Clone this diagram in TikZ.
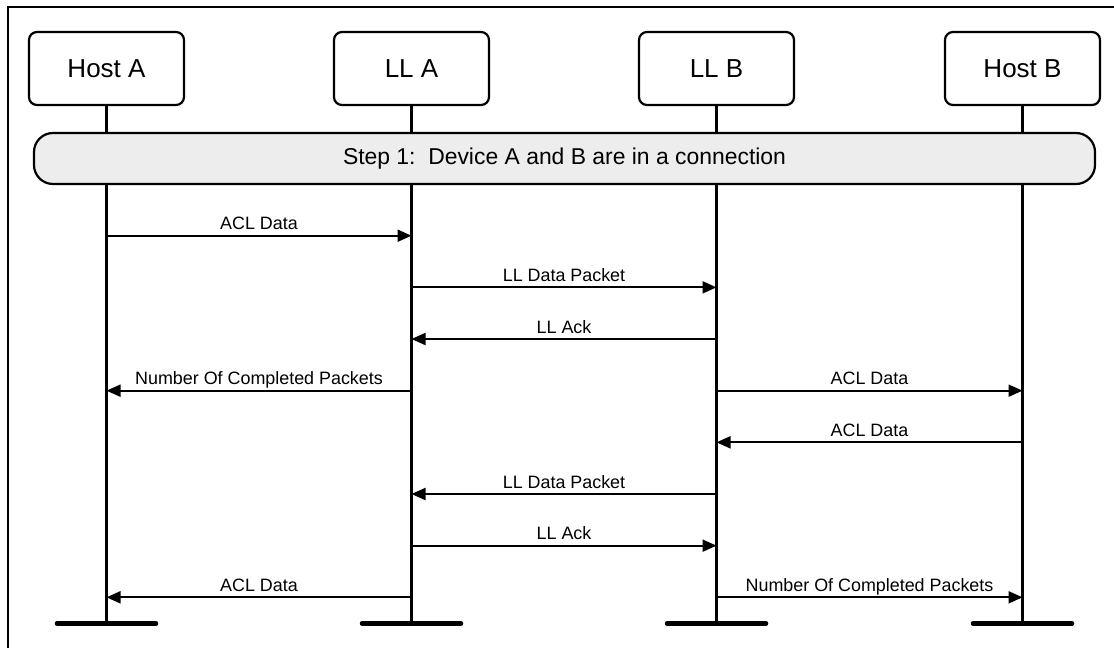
\documentclass[tikz,border=0pt]{standalone}
\usepackage{fontspec}
\setmainfont{Liberation Sans}
\usetikzlibrary{arrows.meta}
\definecolor{stepgray}{HTML}{EDEDED}
\begin{document}
\begin{tikzpicture}[x=1pt,y=-1pt,
  actor/.style={draw,line width=2.2pt,rounded corners=8pt,minimum width=155pt,minimum height=73pt,inner sep=0pt,font=\fontsize{26}{29}\selectfont},
  life/.style={line width=2.4pt},
  endbar/.style={line width=4.5pt,line cap=round},
  stepbar/.style={draw,line width=2.2pt,fill=stepgray,rounded corners=19pt,minimum width=1061pt,minimum height=51pt,inner sep=0pt,font=\fontsize{22.9}{26}\selectfont},
  msg/.style={line width=2pt,-{Triangle[length=14pt,width=12pt]}},
  lbl/.style={midway,anchor=base,yshift=6pt,inner sep=0pt,font=\fontsize{17.9}{20}\selectfont}]
\useasboundingbox (0,0) rectangle (1114,648);
% frame
\draw[line width=2pt] (1114,6.5) -- (8,6.5) -- (8,648);
% actors
\node[actor] (hA) at (106.5,68.5) {Host A};
\node[actor] (lA) at (411.5,68.5) {LL A};
\node[actor] (lB) at (716.5,68.5) {LL B};
\node[actor] (hB) at (1022.5,68.5) {Host B};
% lifeline ends
\coordinate (eA) at (106.5,623.5);
\coordinate (eLA) at (411.5,623.5);
\coordinate (eLB) at (716.5,623.5);
\coordinate (eB) at (1022.5,623.5);
\draw[life] (hA) -- (eA);
\draw[life] (lA) -- (eLA);
\draw[life] (lB) -- (eLB);
\draw[life] (hB) -- (eB);
\foreach \e in {eA,eLA,eLB,eB}{
  \draw[endbar] ([xshift=-49.5pt]\e) -- ([xshift=49.5pt]\e);
}
% step bar
\node[stepbar] (step) at (564.5,158.5) {Step 1:\ \ Device A and B are in a connection};
% row coordinates
\foreach \i in {1,...,8}{
  \pgfmathsetmacro{\yy}{235.7+51.66*(\i-1)}
  \coordinate (A\i) at (106.5,\yy);
  \coordinate (LA\i) at (411.5,\yy);
  \coordinate (LB\i) at (716.5,\yy);
  \coordinate (B\i) at (1022.5,\yy);
}
% messages
\draw[msg] (A1) -- node[lbl]{ACL Data} (LA1);
\draw[msg] (LA2) -- node[lbl]{LL Data Packet} (LB2);
\draw[msg] (LB3) -- node[lbl]{LL Ack} (LA3);
\draw[msg] (LA4) -- node[lbl]{Number Of Completed Packets} (A4);
\draw[msg] (LB4) -- node[lbl]{ACL Data} (B4);
\draw[msg] (B5) -- node[lbl]{ACL Data} (LB5);
\draw[msg] (LB6) -- node[lbl]{LL Data Packet} (LA6);
\draw[msg] (LA7) -- node[lbl]{LL Ack} (LB7);
\draw[msg] (LA8) -- node[lbl]{ACL Data} (A8);
\draw[msg] (LB8) -- node[lbl]{Number Of Completed Packets} (B8);
\end{tikzpicture}
\end{document}
